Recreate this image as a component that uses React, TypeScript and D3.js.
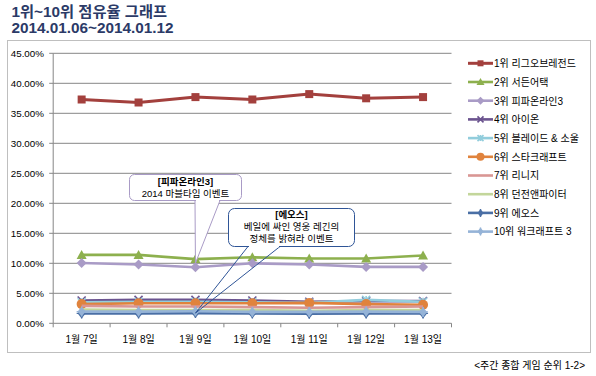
import React from "react";
import * as d3 from "d3";

const categories = ["1월 7일", "1월 8일", "1월 9일", "1월 10일", "1월 11일", "1월 12일", "1월 13일"];
const seriesNames = [
  "1위 리그오브레전드",
  "2위 서든어택",
  "3위 피파온라인3",
  "4위 아이온",
  "5위 블레이드 & 소울",
  "6위 스타크래프트",
  "7위 리니지",
  "8위 던전앤파이터",
  "9위 에오스",
  "10위 워크래프트 3",
];
const s1 = [37.3, 36.8, 37.7, 37.3, 38.2, 37.5, 37.7];
const s2 = [11.4, 11.4, 10.7, 11.0, 10.8, 10.8, 11.3];
const s3 = [10.05, 9.8, 9.35, 10.0, 9.8, 9.4, 9.4];
const s4 = [3.8, 3.9, 3.9, 3.8, 3.6, 3.7, 3.7];
const s5 = [3.5, 3.6, 3.6, 3.5, 3.4, 3.9, 3.6];
const s6 = [3.2, 3.35, 3.35, 3.35, 3.4, 3.2, 3.1];
const s7 = [2.9, 2.8, 2.8, 2.7, 2.6, 2.7, 2.8];
const s8 = [2.3, 2.2, 2.2, 2.2, 2.1, 2.2, 2.2];
const s9 = [1.65, 1.65, 1.7, 1.65, 1.6, 1.65, 1.65];
const s10 = [1.95, 1.95, 2.0, 1.9, 1.9, 1.95, 1.9];
const seriesValues = [s1, s2, s3, s4, s5, s6, s7, s8, s9, s10];
const seriesColors = ["#A3403D", "#8DB04E", "#A99BC6", "#6B538F", "#92CDDC", "#E0833D", "#D99694", "#C3D69B", "#4A6FA5", "#95B3D7"];
const seriesMarkers = ["square", "triangle", "diamond", "x", "star", "circle", "none", "none", "cross", "cross"];
const yTicks = [0, 5, 10, 15, 20, 25, 30, 35, 40, 45];
const titleLines = ["1위~10위 점유율 그래프", "2014.01.06~2014.01.12"];
const callout1 = ["[피파온라인3]", "2014 마블타임 이벤트"];
const callout2 = ["[에오스]", "베일에 싸인 영웅 레긴의", "정체를 밝혀라 이벤트"];
const footer = "<주간 종합 게임 순위 1-2>";

const FONT = "'Liberation Sans', 'Noto Sans CJK KR', sans-serif";

function Marker({ type, x, y, color, s = 4 }: { type: string; x: number; y: number; color: string; s?: number }) {
  switch (type) {
    case "square":
      return <rect x={x - s} y={y - s} width={2 * s} height={2 * s} fill={color} />;
    case "triangle":
      return <path d={`M${x},${y - s - 1}L${x + s + 1},${y + s}L${x - s - 1},${y + s}Z`} fill={color} />;
    case "diamond":
      return <path d={`M${x},${y - s - 1}L${x + s + 1},${y}L${x},${y + s + 1}L${x - s - 1},${y}Z`} fill={color} />;
    case "x":
      return <path d={`M${x - s},${y - s}L${x + s},${y + s}M${x + s},${y - s}L${x - s},${y + s}`} stroke={color} strokeWidth={1.6} />;
    case "star":
      return <path d={`M${x - s},${y - s}L${x + s},${y + s}M${x + s},${y - s}L${x - s},${y + s}M${x},${y - s}L${x},${y + s}`} stroke={color} strokeWidth={1.6} />;
    case "circle":
      return <circle cx={x} cy={y} r={s + 1} fill={color} />;
    case "cross":
      return (
        <g>
          <path d={`M${x},${y - s - 1}L${x + s},${y}L${x},${y + s + 1}L${x - s},${y}Z`} fill={color} />
          <path d={`M${x - s - 1},${y}L${x + s + 1},${y}M${x},${y - s - 1}L${x},${y + s + 1}`} stroke={color} strokeWidth={1.4} />
        </g>
      );
    default:
      return null;
  }
}

export default function App() {
  const W = 596, H = 376;
  const left = 53.2, right = 451.5, top = 53.3, bottom = 323.3;
  const x = d3.scaleBand<string>().domain(categories).range([left, right]);
  const y = d3.scaleLinear().domain([0, 45]).range([bottom, top]);
  const cx = (c: string) => (x(c) as number) + x.bandwidth() / 2;
  const line = d3.line<number>().x((_, i) => cx(categories[i])).y((d) => y(d));

  const legendX = 468, legendY0 = 63.3, legendDy = 18.7;

  const p1x = cx(categories[2]);
  const p1y = y(s3[2]) - 4;
  const p2x = cx(categories[2]);
  const p2y = y(s9[2]);

  return (
    <svg width={W} height={H} style={{ position: "absolute", left: 0, top: 0, fontFamily: FONT }}>
      <rect x={0} y={0} width={W} height={H} fill="#fff" />
      {titleLines.map((t, i) => (
        <text key={i} x={11.5} y={17 + i * 16} fontSize={15.3} fontWeight="bold" fill="#2B3A67" fontFamily={FONT}>
          {t}
        </text>
      ))}
      <rect x={7.5} y={40.5} width={583} height={312} fill="none" stroke="#BFBFBF" />
      {yTicks.map((t) => (
        <g key={t}>
          {t > 0 && <line x1={left} x2={right} y1={y(t)} y2={y(t)} stroke="#868686" strokeWidth={1} />}
          <line x1={left - 4} x2={left} y1={y(t)} y2={y(t)} stroke="#868686" />
          <text x={44} y={y(t) + 3.5} fontSize={9.8} textAnchor="end" fill="#000">
            {t.toFixed(2)}%
          </text>
        </g>
      ))}
      <line x1={left} x2={left} y1={top} y2={bottom} stroke="#868686" />
      <line x1={left} x2={right} y1={bottom} y2={bottom} stroke="#868686" />
      {categories.map((c, i) => (
        <g key={c}>
          <line x1={x(c) as number} x2={x(c) as number} y1={bottom} y2={bottom + 4} stroke="#868686" />
          {i === categories.length - 1 && <line x1={right} x2={right} y1={bottom} y2={bottom + 4} stroke="#868686" />}
          <text x={cx(c)} y={343} fontSize={10} textAnchor="middle" fill="#000">
            {c}
          </text>
        </g>
      ))}
      {seriesValues.map((vals, si) => (
        <g key={si}>
          <path d={line(vals) || ""} fill="none" stroke={seriesColors[si]} strokeWidth={si === 0 ? 3 : 2.6} strokeLinejoin="round" />
          {vals.map((v, i) => (
            <Marker key={i} type={seriesMarkers[si]} x={cx(categories[i])} y={y(v)} color={seriesColors[si]} />
          ))}
        </g>
      ))}
      <g>
        <path d={`M195,200.5L${p1x},${p1y}L220,200.5`} fill="#fff" stroke="#A99BC6" strokeWidth={1} />
        <rect x={129.5} y={174.5} width={112} height={26} rx={5} fill="#fff" stroke="#A99BC6" />
        <line x1={196} x2={219} y1={200.5} y2={200.5} stroke="#fff" strokeWidth={1.5} />
        <text x={185.5} y={185} fontSize={9.5} fontWeight="bold" textAnchor="middle" fill="#000">{callout1[0]}</text>
        <text x={185.5} y={197} fontSize={9.5} textAnchor="middle" fill="#000">{callout1[1]}</text>
      </g>
      <g>
        <path d={`M248,246.5L${p2x},${p2y}L280,246.5`} fill="none" stroke="#2F5597" strokeWidth={1} />
        <rect x={228.5} y={208.5} width={126} height={38} rx={6} fill="#fff" stroke="#2F5597" />
        <line x1={249} x2={279} y1={246.5} y2={246.5} stroke="#fff" strokeWidth={1.5} />
        {callout2.map((t, i) => (
          <text key={i} x={291.5} y={218 + i * 12} fontSize={9.5} fontWeight={i === 0 ? "bold" : "normal"} textAnchor="middle" fill="#000">
            {t}
          </text>
        ))}
      </g>
      {seriesNames.map((n, i) => {
        const ly = legendY0 + i * legendDy;
        return (
          <g key={n}>
            <line x1={legendX} x2={legendX + 25} y1={ly} y2={ly} stroke={seriesColors[i]} strokeWidth={i === 0 ? 3 : 2.6} />
            <Marker type={seriesMarkers[i]} x={legendX + 12.5} y={ly} color={seriesColors[i]} s={3} />
            <text x={legendX + 26} y={ly + 3.8} fontSize={10} fill="#000">
              {n}
            </text>
          </g>
        );
      })}
      <text x={585} y={369} fontSize={10} textAnchor="end" fill="#000">
        {footer}
      </text>
    </svg>
  );
}
